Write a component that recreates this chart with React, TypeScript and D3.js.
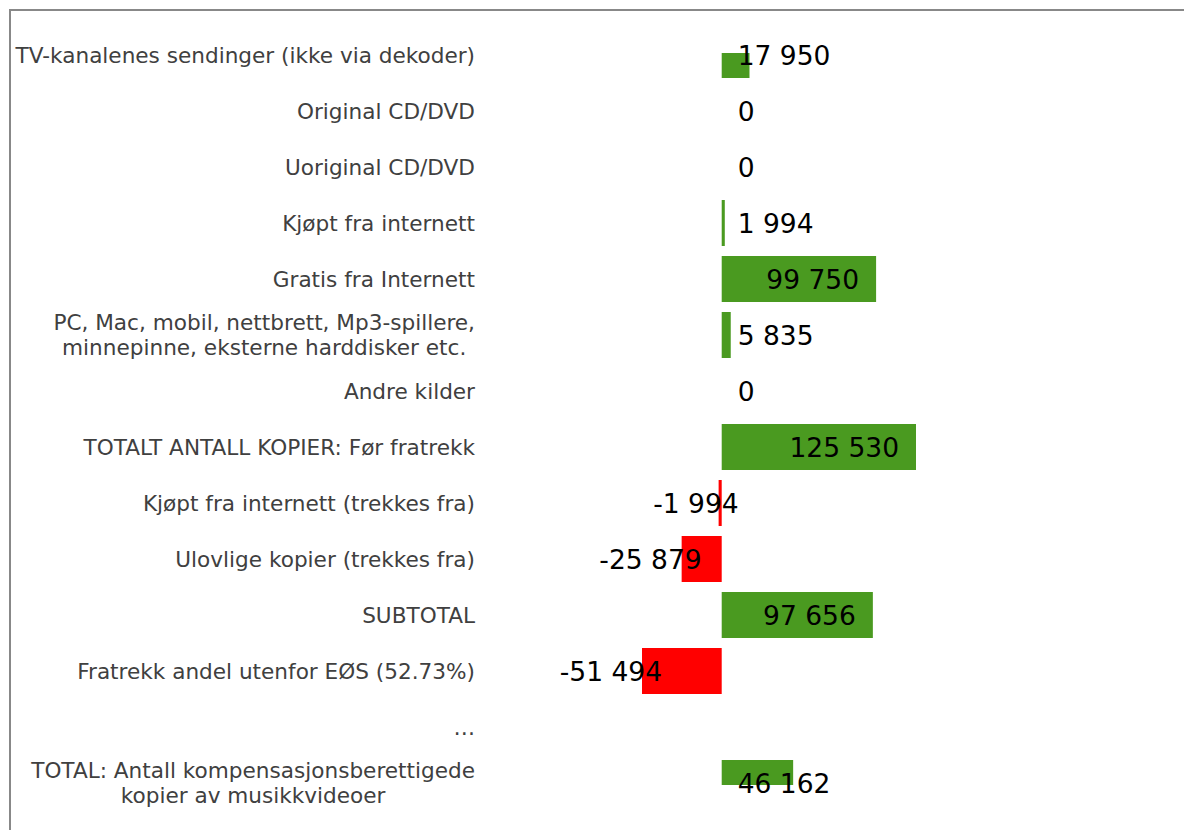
import React from 'react';
import * as d3 from 'd3';

const categories: string[][] = [
  ['TV-kanalenes sendinger (ikke via dekoder)'],
  ['Original CD/DVD'],
  ['Uoriginal CD/DVD'],
  ['Kjøpt fra internett'],
  ['Gratis fra Internett'],
  ['PC, Mac, mobil, nettbrett, Mp3-spillere,', 'minnepinne, eksterne harddisker etc.'],
  ['Andre kilder'],
  ['TOTALT ANTALL KOPIER: Før fratrekk'],
  ['Kjøpt fra internett (trekkes fra)'],
  ['Ulovlige kopier (trekkes fra)'],
  ['SUBTOTAL'],
  ['Fratrekk andel utenfor EØS (52.73%)'],
  ['…'],
  ['TOTAL: Antall kompensasjonsberettigede', 'kopier av musikkvideoer'],
];

const values: (number | null)[] = [
  17950, 0, 0, 1994, 99750, 5835, 0, 125530, -1994, -25879, 97656, -51494, null, 46162,
];

const W = 1184;
const H = 830;
const GREEN = '#4a9a20';
const RED = '#ff0000';
const FONT = '"DejaVu Sans", Verdana, sans-serif';
const LABEL_SIZE = 21.6;
const VALUE_SIZE = 26.5;

const fmt = (v: number) => {
  const s = d3.format(',')(Math.abs(v)).replace(/,/g, ' ');
  return (v < 0 ? '-' : '') + s;
};

let ctx: CanvasRenderingContext2D | null = null;
function measure(text: string, size: number) {
  if (!ctx) ctx = document.createElement('canvas').getContext('2d');
  if (!ctx) return text.length * size * 0.6;
  ctx.font = `${size}px "DejaVu Sans", Verdana, sans-serif`;
  return ctx.measureText(text).width;
}

export default function App() {
  const y = d3
    .scaleBand<number>()
    .domain(d3.range(categories.length))
    .range([27, 811])
    .paddingInner(10 / 56)
    .paddingOuter(5 / 56);

  const nums = values.filter((v): v is number => v !== null);
  const x = d3
    .scaleLinear()
    .domain([d3.min(nums) as number, d3.max(nums) as number])
    .range([642, 916]);

  const x0 = x(0);
  const labelRight = 475;
  const lineH = 25.5;

  return (
    <svg width={W} height={H} style={{ display: 'block', position: 'absolute', left: 0, top: 0 }}>
      <defs>
        <clipPath id="plot">
          <rect x={0} y={53} width={W} height={732} />
        </clipPath>
      </defs>
      <rect width={W} height={H} fill="#fff" />
      <line x1={9} x2={W} y1={10} y2={10} stroke="#888" strokeWidth={2} />
      <line x1={10} x2={10} y1={9} y2={H} stroke="#888" strokeWidth={2} />

      <g fontFamily={FONT} fontSize={LABEL_SIZE} fill="#404040">
        {categories.map((lines, i) => {
          const cy = (y(i) as number) + y.bandwidth() / 2;
          if (lines.length === 1) {
            return (
              <text key={i} x={labelRight} y={cy} textAnchor="end" dominantBaseline="central">
                {lines[0]}
              </text>
            );
          }
          // multi-line labels: lines centred on each other, block right-aligned
          const w = Math.max(...lines.map((l) => measure(l, LABEL_SIZE)));
          const cx = labelRight - w / 2;
          const start = cy - ((lines.length - 1) * lineH) / 2;
          return (
            <g key={i}>
              {lines.map((l, k) => (
                <text key={k} x={cx} y={start + k * lineH} textAnchor="middle" dominantBaseline="central">
                  {l}
                </text>
              ))}
            </g>
          );
        })}
      </g>

      <g clipPath="url(#plot)">
        {values.map((v, i) => {
          if (v === null || v === 0) return null;
          const top = y(i) as number;
          return (
            <rect
              key={i}
              x={Math.min(x(v), x0)}
              y={top}
              width={Math.max(Math.abs(x(v) - x0), 2)}
              height={y.bandwidth()}
              fill={v > 0 ? GREEN : RED}
            />
          );
        })}
      </g>

      <g fontFamily={FONT} fontSize={VALUE_SIZE} fill="#000">
        {values.map((v, i) => {
          if (v === null) return null;
          const cy = (y(i) as number) + y.bandwidth() / 2;
          const label = fmt(v);
          const tw = measure(label, VALUE_SIZE);
          let tx: number;
          let anchor: 'start' | 'end';
          if (v >= 0) {
            const end = x(v) - 17;
            if (end - tw >= x0 + 16) {
              tx = end;
              anchor = 'end';
            } else {
              tx = x0 + 16;
              anchor = 'start';
            }
          } else {
            tx = x(v) + 20;
            anchor = 'end';
          }
          return (
            <text key={i} x={tx} y={cy} textAnchor={anchor} dominantBaseline="central">
              {label}
            </text>
          );
        })}
      </g>
    </svg>
  );
}
